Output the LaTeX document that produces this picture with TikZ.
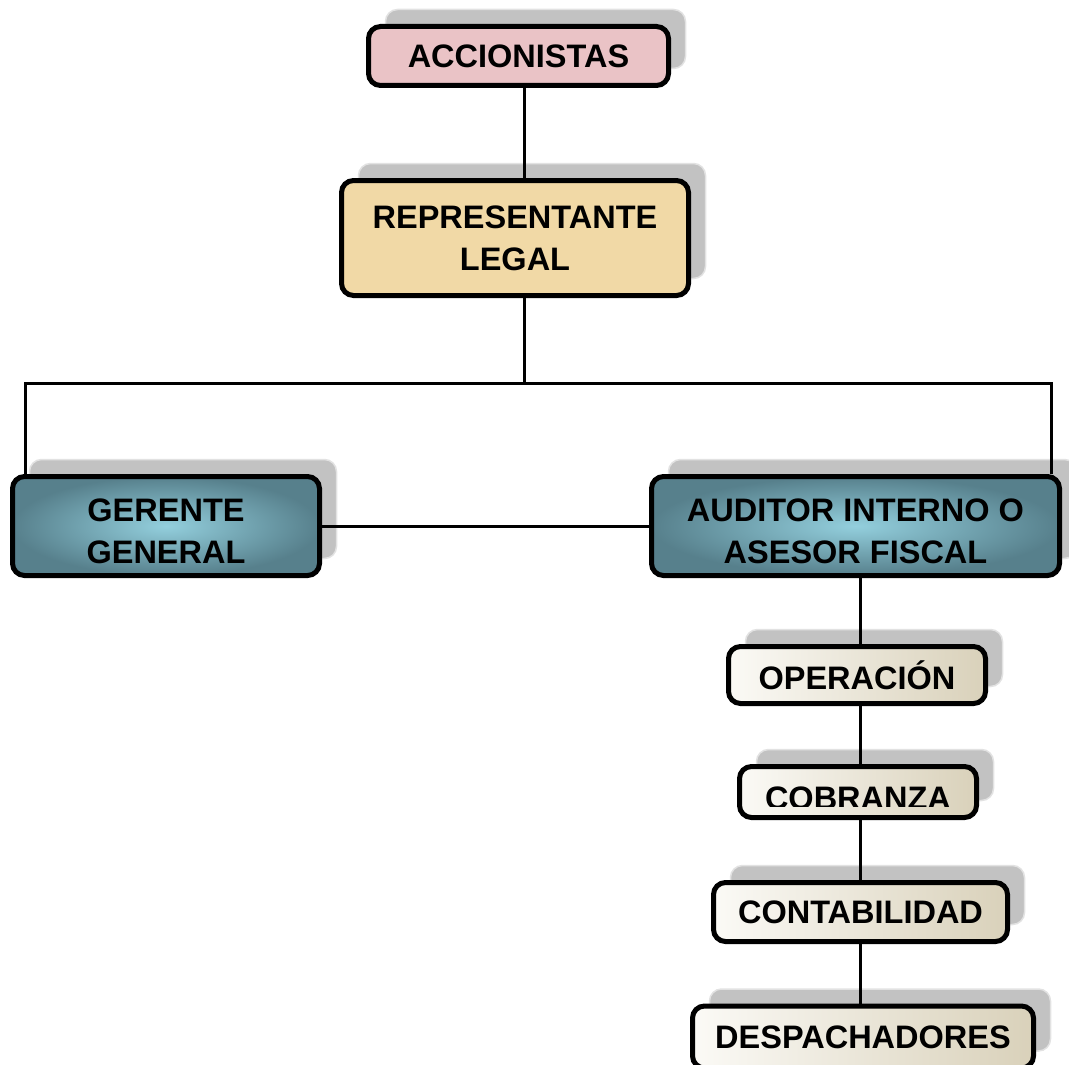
\documentclass[tikz,border=0pt]{standalone}
\usepackage{fontspec}
\setmainfont{Liberation Sans}
\usepackage{tikz}
\usetikzlibrary{shadows}
\definecolor{pinkfill}{HTML}{EAC3C6}
\definecolor{parchfill}{HTML}{F1D9A6}
\definecolor{tealin}{HTML}{93CFDD}
\definecolor{tealout}{HTML}{57808C}
\definecolor{papleft}{HTML}{FBFAF6}
\definecolor{papright}{HTML}{D9D1BA}
\definecolor{shadowgray}{HTML}{C2C2C2}
\definecolor{shadowedge}{HTML}{E2E2E2}
\tikzset{
  box/.style={draw=black,line width=5pt,rounded corners=12pt,align=center,
    inner sep=0pt,font=\bfseries\fontsize{32.5}{42}\selectfont,
    general shadow={fill=shadowgray,draw=shadowedge,line width=1.5pt,
      shadow xshift=17pt,shadow yshift=17pt}},
  rootbox/.style={box,fill=pinkfill},
  legalbox/.style={box,fill=parchfill},
  headbox/.style={box,inner color=tealin,outer color=tealout},
  unitbox/.style={box,left color=papleft,right color=papright},
  lbl/.style={font=\bfseries\fontsize{32.5}{42}\selectfont,inner sep=0pt},
  link/.style={line width=3pt,line join=miter}
}

\begin{document}
\begin{tikzpicture}[x=1pt,y=-1pt]
  \useasboundingbox (0,0) rectangle (1069,1065);

  % boxes
  \node[rootbox,minimum width=300pt,minimum height=59pt] (acc) at (518.5,56) {ACCIONISTAS};
  \node[legalbox,minimum width=347pt,minimum height=115pt] (rep) at (515,238) {REPRESENTANTE\\LEGAL};
  \node[headbox,minimum width=307pt,minimum height=99pt] (ger) at (166,526) {\rule{0pt}{34pt}GERENTE\\GENERAL};
  \node[headbox,minimum width=408pt,minimum height=99pt] (aud) at (855.5,526) {\rule{0pt}{34pt}AUDITOR INTERNO O\\ASESOR FISCAL};
  \node[unitbox,minimum width=257pt,minimum height=57pt] (ope) at (857,675) {OPERACIÓN};
  \node[unitbox,minimum width=237pt,minimum height=51pt] (cob) at (858,792) {};
  \begin{scope}
    \clip (740,770) rectangle (976,806);
    \node[lbl] (cobtxt) at (858,798.5) {COBRANZA};
  \end{scope}
  \node[unitbox,minimum width=294pt,minimum height=59pt] (con) at (860.5,912) {CONTABILIDAD};
  \node[unitbox,minimum width=341pt,minimum height=62pt] (des) at (863,1037) {DESPACHADORES};

  % connectors
  \coordinate (bus) at (524,383);
  \coordinate (busl) at (25,383);
  \coordinate (busr) at (1051,383);
  \coordinate (chain) at (860,0);
  \draw[link] (acc.south -| bus) -- (rep.north -| bus);
  \draw[link] (rep.south -| bus) -- (bus);
  \draw[link] (ger.north -| busl) -- (busl) -- (busr) -- (aud.north -| busr);
  \draw[link] (ger.east) -- (aud.west);
  \foreach \a/\b in {aud/ope,ope/cob,cob/con,con/des}
    \draw[link] (\a.south -| chain) -- (\b.north -| chain);
\end{tikzpicture}
\end{document}
